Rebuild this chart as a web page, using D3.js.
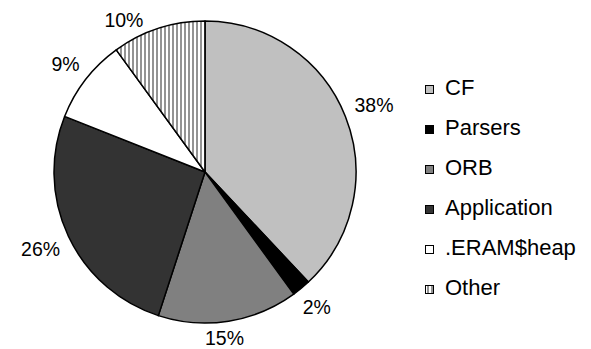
<!DOCTYPE html>
<html>
<head>
<meta charset="utf-8">
<script src="https://cdn.jsdelivr.net/npm/d3@7"></script>
<style>
html,body{margin:0;padding:0;background:#fff;}
svg{display:block;font-family:"Liberation Sans",Arial,Helvetica,sans-serif;}
</style>
</head>
<body>
<svg id="chart" width="591" height="349"></svg>
<script>
const categories = ["CF", "Parsers", "ORB", "Application", ".ERAM$heap", "Other"];
const values = [38, 2, 15, 26, 9, 10];
const valueLabels = ["38%", "2%", "15%", "26%", "9%", "10%"];
const fills = ["#c0c0c0", "#000000", "#808080", "#333333", "#ffffff", "url(#stripes)"];

const svg = d3.select("#chart");
const W = 591, H = 349;
const cx = 205, cy = 172, R = 151;

const defs = svg.append("defs");
const pat = defs.append("pattern")
  .attr("id", "stripes")
  .attr("patternUnits", "userSpaceOnUse")
  .attr("x", 1).attr("y", 0)
  .attr("width", 4).attr("height", 4);
pat.append("rect").attr("width", 4).attr("height", 4).attr("fill", "#ffffff");
pat.append("rect").attr("x", 2).attr("width", 2).attr("height", 4).attr("fill", "#939393");

const pie = d3.pie().sort(null).value(d => d)(values);
const arc = d3.arc().innerRadius(0).outerRadius(R);

const g = svg.append("g").attr("transform", `translate(${cx},${cy})`);
g.selectAll("path.slice").data(pie).join("path")
  .attr("class", "slice")
  .attr("d", arc)
  .attr("fill", (d, i) => fills[i])
  .attr("stroke", "#000")
  .attr("stroke-width", 1.5)
  .attr("stroke-linejoin", "round");

// labels: box nearest point kept at distance D from pie centre
const fs = 19.5;
const capH = fs * 0.72;
const D = 161, Dslide = 157.5;
const minCy = 13 + capH / 2 - cy;      // keep label inside the picture
const maxCy = 345 - capH / 2 - cy;
function nearestDist(x, y, hw, hh) {
  const nx = Math.max(Math.abs(x) - hw, 0);
  const ny = Math.max(Math.abs(y) - hh, 0);
  return Math.hypot(nx, ny);
}
const lbl = g.selectAll("text.lbl").data(pie).join("text")
  .attr("class", "lbl")
  .attr("font-size", fs)
  .attr("text-anchor", "middle")
  .attr("fill", "#000")
  .text((d, i) => valueLabels[i]);
lbl.each(function(d) {
  const hw = this.getComputedTextLength() / 2, hh = capH / 2;
  const a = (d.startAngle + d.endAngle) / 2;
  const s = Math.sin(a), c = Math.cos(a);
  let r = 100;
  while (nearestDist(r * s, -r * c, hw, hh) < D) r += 0.25;
  let x = r * s, y = -r * c;
  if (y < minCy || y > maxCy) {
    y = Math.min(Math.max(y, minCy), maxCy);
    const ny = Math.abs(y) - hh;
    const nx = Math.sqrt(Math.max(Dslide * Dslide - ny * ny, 0));
    x = Math.sign(s) * (nx + hw);
  }
  d3.select(this).attr("x", x).attr("y", y + capH / 2);
});

// legend
const legend = svg.append("g").attr("class", "legend");
const rowY = d3.scalePoint().domain(categories).range([95, 295]);
const items = legend.selectAll("g").data(categories).join("g")
  .attr("transform", d => `translate(0,${rowY(d)})`);
items.append("rect")
  .attr("x", 425.5).attr("y", -9.5)
  .attr("width", 8).attr("height", 8)
  .attr("fill", (d, i) => fills[i])
  .attr("stroke", "#000").attr("stroke-width", 1);
items.append("text")
  .attr("x", 445).attr("y", 0)
  .attr("font-size", 22)
  .attr("fill", "#000")
  .text(d => d);
</script>
</body>
</html>
